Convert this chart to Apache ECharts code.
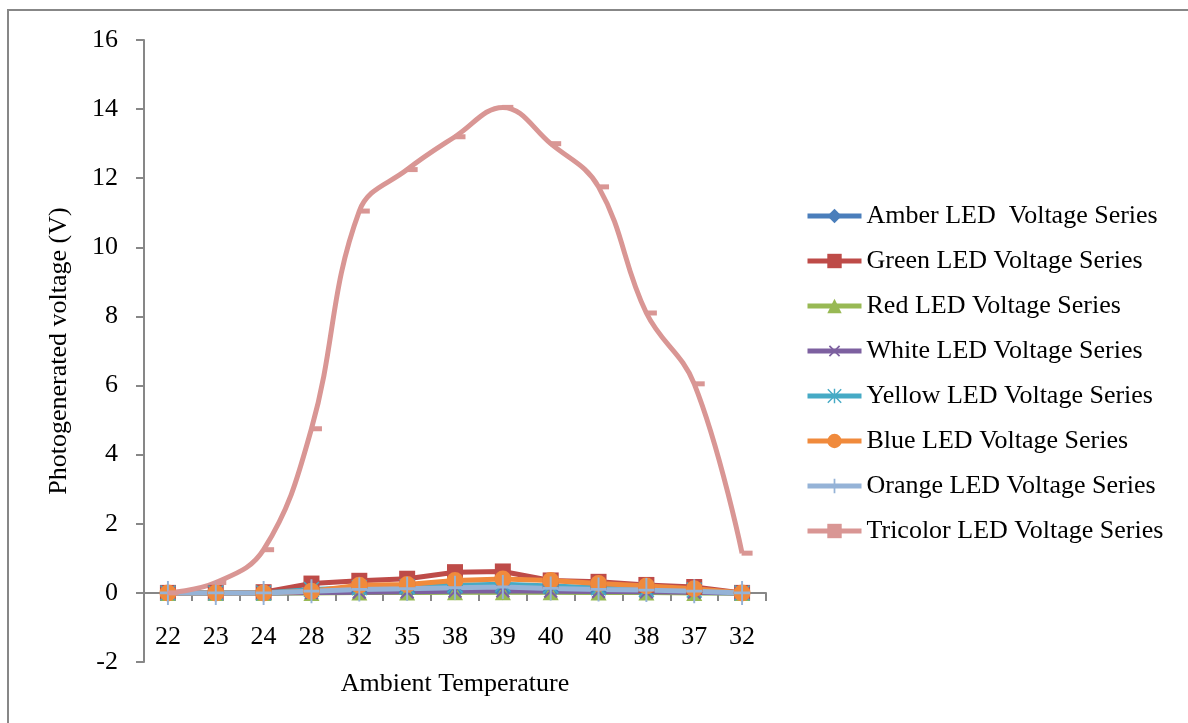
<!DOCTYPE html>
<html>
<head>
<meta charset="utf-8">
<script src="https://cdn.jsdelivr.net/npm/echarts@6/dist/echarts.min.js"></script>
<style>
  html, body { margin: 0; padding: 0; background: #fff; }
  #chart { width: 1188px; height: 723px; }
</style>
</head>
<body>
<div id="chart"></div>
<script>
'use strict'
var temps = ['22', '23', '24', '28', '32', '35', '38', '39', '40', '40', '38', '37', '32']
var amber = [0, 0, 0, 0.01, 0.02, 0.02, 0.03, 0.03, 0.03, 0.02, 0.02, 0.01, 0]
var green = [0, 0, 0.02, 0.27, 0.35, 0.41, 0.6, 0.62, 0.36, 0.32, 0.23, 0.17, 0]
var red = [0, 0, 0, 0, 0.01, 0.01, 0.02, 0.02, 0.02, 0.01, 0.01, 0, 0]
var white = [0, 0, 0, 0.01, 0.02, 0.03, 0.05, 0.06, 0.05, 0.04, 0.03, 0.02, 0]
var yellow = [0, 0, 0, 0.1, 0.15, 0.18, 0.22, 0.25, 0.2, 0.15, 0.1, 0.08, 0]
var blue = [0, 0, 0, 0.05, 0.22, 0.24, 0.36, 0.4, 0.36, 0.27, 0.2, 0.12, 0]
var orange = [0, 0, 0, 0.05, 0.1, 0.12, 0.15, 0.17, 0.13, 0.1, 0.08, 0.05, 0]
var tricolor = [0, 0.3, 1.25, 4.75, 11.05, 12.25, 13.2, 14.05, 13.0, 11.75, 8.1, 6.05, 1.15]

var FONT = 'Liberation Serif'
var plusPath = 'path://M4.4,0H5.6V4.4H10V5.6H5.6V10H4.4V5.6H0V4.4H4.4Z'
var starPath = 'path://M4.5,0H5.5V10H4.5Z M0,4.5H10V5.5H0Z M0.7,0L10,9.3L9.3,10L0,0.7Z M9.3,0L10,0.7L0.7,10L0,9.3Z'

function lineSeries(name, data, color, symbol, size, extra) {
  var s = {
    name: name,
    type: 'line',
    data: data,
    symbol: symbol,
    symbolSize: size,
    showAllSymbol: true,
    lineStyle: { color: color, width: 5 },
    itemStyle: { color: color },
    emphasis: { disabled: true }
  }
  for (var k in extra) s[k] = extra[k]
  return s
}

var chart = echarts.init(document.getElementById('chart'))
chart.setOption({
  animation: false,
  grid: { left: 144, right: 422, top: 40, bottom: 61, outerBoundsMode: 'none', containLabel: false },
  graphic: [
    {
      type: 'rect',
      shape: { x: 8, y: 10, width: 1200, height: 740 },
      style: { fill: 'none', stroke: '#878787', lineWidth: 2 },
      silent: true
    }
  ],
  legend: {
    orient: 'vertical',
    left: 800,
    top: 198,
    itemWidth: 54,
    itemHeight: 18,
    itemGap: 19,
    lineStyle: { width: 5 },
    textStyle: { fontFamily: FONT, fontSize: 26, color: '#000', lineHeight: 26 },
    data: [
      'Amber LED  Voltage Series',
      'Green LED Voltage Series',
      'Red LED Voltage Series',
      'White LED Voltage Series',
      'Yellow LED Voltage Series',
      'Blue LED Voltage Series',
      'Orange LED Voltage Series',
      'Tricolor LED Voltage Series'
    ]
  },
  xAxis: {
    type: 'category',
    data: temps,
    boundaryGap: true,
    name: 'Ambient Temperature',
    nameLocation: 'middle',
    nameGap: 9,
    nameTextStyle: { fontFamily: FONT, fontSize: 26, color: '#000' },
    axisLine: { show: true, onZero: true, lineStyle: { color: '#878787', width: 2 } },
    axisTick: { show: true, length: 8, lineStyle: { color: '#878787', width: 2 } },
    axisLabel: { fontFamily: FONT, fontSize: 26, color: '#000', margin: -38 },
    splitLine: { show: false }
  },
  yAxis: {
    type: 'value',
    min: -2,
    max: 16,
    interval: 2,
    name: 'Photogenerated voltage (V)',
    nameLocation: 'middle',
    nameGap: 72,
    nameTextStyle: { fontFamily: FONT, fontSize: 26, color: '#000' },
    axisLine: { show: true, lineStyle: { color: '#878787', width: 2 } },
    axisTick: { show: true, length: 8, lineStyle: { color: '#878787', width: 2 } },
    axisLabel: { fontFamily: FONT, fontSize: 26, color: '#000', margin: 26 },
    splitLine: { show: false }
  },
  series: [
    lineSeries('Amber LED  Voltage Series', amber, '#4a7ebb', 'diamond', 17),
    lineSeries('Green LED Voltage Series', green, '#be4b48', 'rect', 16),
    lineSeries('Red LED Voltage Series', red, '#98b954', 'triangle', 16),
    lineSeries('White LED Voltage Series', white, '#7d60a0', plusPath, 18, { symbolRotate: 45 }),
    lineSeries('Yellow LED Voltage Series', yellow, '#46aac5', starPath, 16),
    lineSeries('Blue LED Voltage Series', blue, '#f08a3c', 'circle', 17),
    lineSeries('Orange LED Voltage Series', orange, '#95b3d7', plusPath, [16, 24]),
    lineSeries('Tricolor LED Voltage Series', tricolor, '#d99694', 'rect', [11, 5], {
      smooth: 0.4,
      symbolOffset: [5, 0],
      lineStyle: { color: '#d99694', width: 5 }
    })
  ]
})
</script>
</body>
</html>
